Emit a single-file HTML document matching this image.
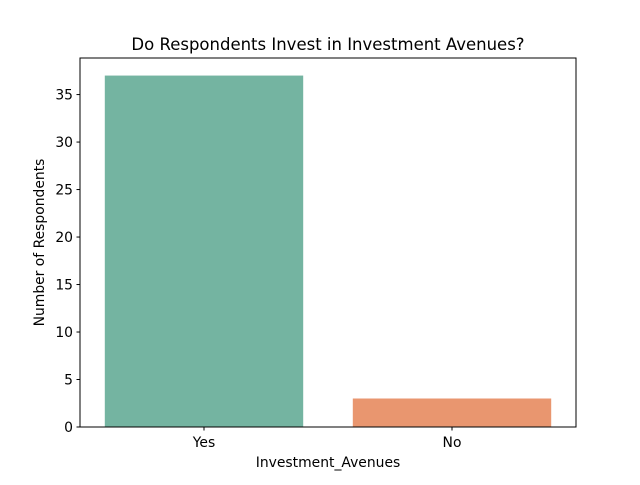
<!DOCTYPE html>
<html><head><meta charset="utf-8"><style>
body{margin:0;background:#fff;}
svg text{font-family:"DejaVu Sans","Liberation Sans",sans-serif;fill:#000;}
</style></head><body>
<svg id="chart" width="640" height="480" viewBox="0 0 640 480">
<rect width="640" height="480" fill="#fff"/>
<text x="328" y="50" font-size="16.5" text-anchor="middle">Do Respondents Invest in Investment Avenues?</text>
<g id="bars"></g>
<g id="yticks"></g>
<g id="xticks"></g>
<rect x="80" y="58" width="496" height="369" fill="none" stroke="#000" stroke-width="1"/>
<text x="328" y="467" font-size="13.9" text-anchor="middle">Investment_Avenues</text>
<text transform="translate(44,242.5) rotate(-90)" font-size="13.9" text-anchor="middle">Number of Respondents</text>
</svg>
<script>
const categories = ["Yes", "No"];
const counts = [37, 3];
const barColors = ["#74b4a1", "#e9966f"];
const yTicks = [0, 5, 10, 15, 20, 25, 30, 35];

const NS = "http://www.w3.org/2000/svg";
const plotLeft = 80, plotRight = 576, plotTop = 58, plotBottom = 427;
const yMax = Math.max(...counts) * 1.05;
function yScale(v){ return plotBottom - v / yMax * (plotBottom - plotTop); }
const band = (plotRight - plotLeft) / categories.length;
function xCenter(i){ return plotLeft + band * (i + 0.5); }

const bars = document.getElementById('bars');
categories.forEach((c, i) => {
  const w = band * 0.8;
  const r = document.createElementNS(NS, 'rect');
  r.setAttribute('x', xCenter(i) - w / 2);
  r.setAttribute('y', yScale(counts[i]));
  r.setAttribute('width', w);
  r.setAttribute('height', plotBottom - yScale(counts[i]));
  r.setAttribute('fill', barColors[i]);
  
  
  bars.appendChild(r);
});

const yt = document.getElementById('yticks');
yTicks.forEach(v => {
  const y = yScale(v);
  const l = document.createElementNS(NS, 'line');
  l.setAttribute('x1', plotLeft - 3.5); l.setAttribute('x2', plotLeft);
  l.setAttribute('y1', y); l.setAttribute('y2', y);
  l.setAttribute('stroke', '#000');
  
  
  yt.appendChild(l);
  const t = document.createElementNS(NS, 'text');
  t.setAttribute('x', plotLeft - 7); t.setAttribute('y', y + 5);
  t.setAttribute('font-size', '13.9'); t.setAttribute('text-anchor', 'end');
  t.textContent = v;
  
  
  yt.appendChild(t);
});

const xt = document.getElementById('xticks');
categories.forEach((c, i) => {
  const x = xCenter(i);
  const l = document.createElementNS(NS, 'line');
  l.setAttribute('x1', x); l.setAttribute('x2', x);
  l.setAttribute('y1', plotBottom); l.setAttribute('y2', plotBottom + 3.5);
  l.setAttribute('stroke', '#000');
  
  
  xt.appendChild(l);
  const t = document.createElementNS(NS, 'text');
  t.setAttribute('x', x); t.setAttribute('y', plotBottom + 20);
  t.setAttribute('font-size', '13.9'); t.setAttribute('text-anchor', 'middle');
  t.textContent = c;
  
  
  xt.appendChild(t);
});
</script>
</body></html>
